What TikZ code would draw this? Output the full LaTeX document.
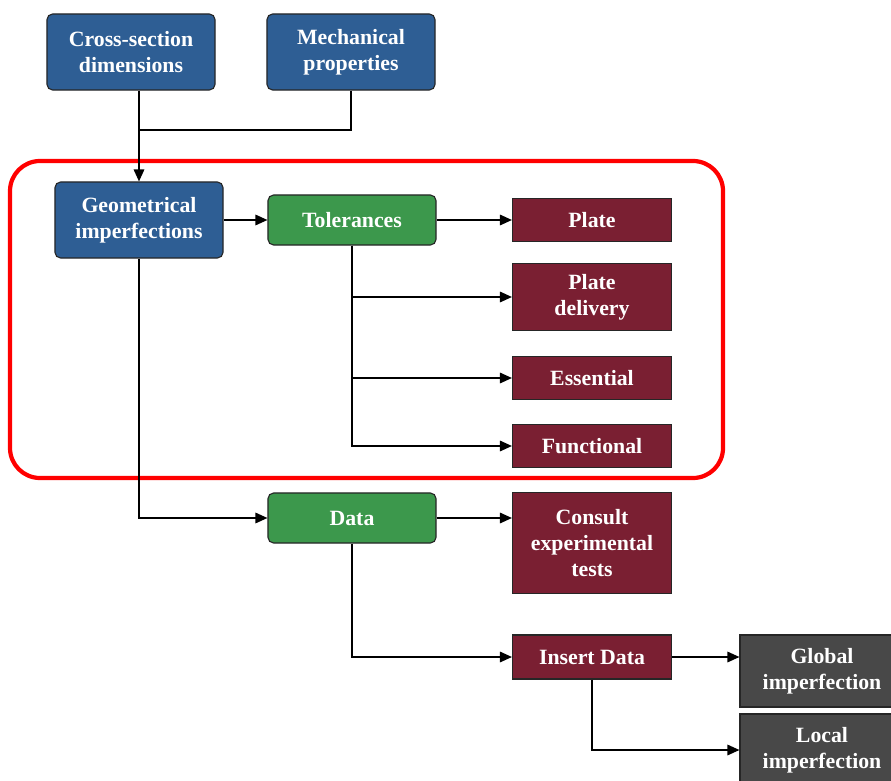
\documentclass[tikz,border=0pt]{standalone}
\usepackage{fontspec}
\setmainfont{Liberation Serif}
\usetikzlibrary{arrows.meta, positioning}
\definecolor{inblue}{RGB}{46, 94, 148}
\definecolor{tolgreen}{RGB}{60, 152, 76}
\definecolor{outred}{RGB}{122, 31, 50}
\definecolor{impgray}{RGB}{72, 72, 72}

\begin{document}
\begin{tikzpicture}[x=0.025cm, y=-0.025cm,
  box/.style={draw=black!85, line width=0.8pt, text=white, align=center, inner sep=2pt, font=\fontsize{15.5}{18.5}\selectfont\bfseries},
  bluebox/.style={box, fill=inblue, rounded corners=4pt, minimum width=4.2cm, minimum height=1.9cm},
  greenbox/.style={box, fill=tolgreen, rounded corners=4pt, minimum width=4.2cm, minimum height=1.25cm},
  redbox/.style={box, fill=outred, minimum width=3.975cm},
  graybox/.style={box, fill=impgray, minimum width=4.1cm, minimum height=1.8cm},
  link/.style={line width=1pt, -{Triangle[length=8.5pt, width=7.5pt]}}
]
  \useasboundingbox (0,0) rectangle (891,780);
  % inputs
  \node[bluebox] (cross) at (131, 52) {Cross-section\\dimensions};
  \node[bluebox] (mech) at (351, 52) {Mechanical\\properties};
  \node[bluebox] (geo) at (139, 220) {Geometrical\\imperfections};
  % tolerances
  \node[greenbox] (tol) at (352, 220) {Tolerances};
  \node[redbox, minimum height=1.075cm] (plate) at (592, 220) {Plate};
  \node[redbox, minimum height=1.675cm] (delivery) at (592, 297) {Plate\\delivery};
  \node[redbox, minimum height=1.075cm] (essential) at (592, 378) {Essential};
  \node[redbox, minimum height=1.075cm] (functional) at (592, 446) {Functional};
  % data
  \node[greenbox] (data) at (352, 518) {Data};
  \node[redbox, minimum height=2.525cm] (consult) at (592, 543) {Consult\\experimental\\tests};
  \node[redbox, minimum height=1.1cm] (insert) at (592, 657) {Insert Data};
  \node[graybox] (global) at (822, 671) {Global\\imperfection};
  \node[graybox] (local) at (822, 750) {Local\\imperfection};

  \draw[red, line width=3pt, rounded corners=0.75cm] (10,161) rectangle (723,478);

  \coordinate (join) at (geo.north |- 0,130);
  \draw[line width=1pt] (mech.south) |- (join);
  \draw[link] (cross.south -| geo.north) -- (geo.north);
  \draw[link] (geo) -- (tol);
  \draw[link] (tol) -- (plate);
  \draw[link] (tol.south) |- (delivery.west);
  \draw[link] (tol.south) |- (essential.west);
  \draw[link] (tol.south) |- (functional.west);
  \draw[link] (geo.south) |- (data.west);
  \draw[link] (data.east) -- (data.east -| consult.west);
  \draw[link] (data.south) |- (insert.west);
  \draw[link] (insert.east) -- (insert.east -| global.west);
  \draw[link] (insert.south) |- (local.west);
\end{tikzpicture}
\end{document}
